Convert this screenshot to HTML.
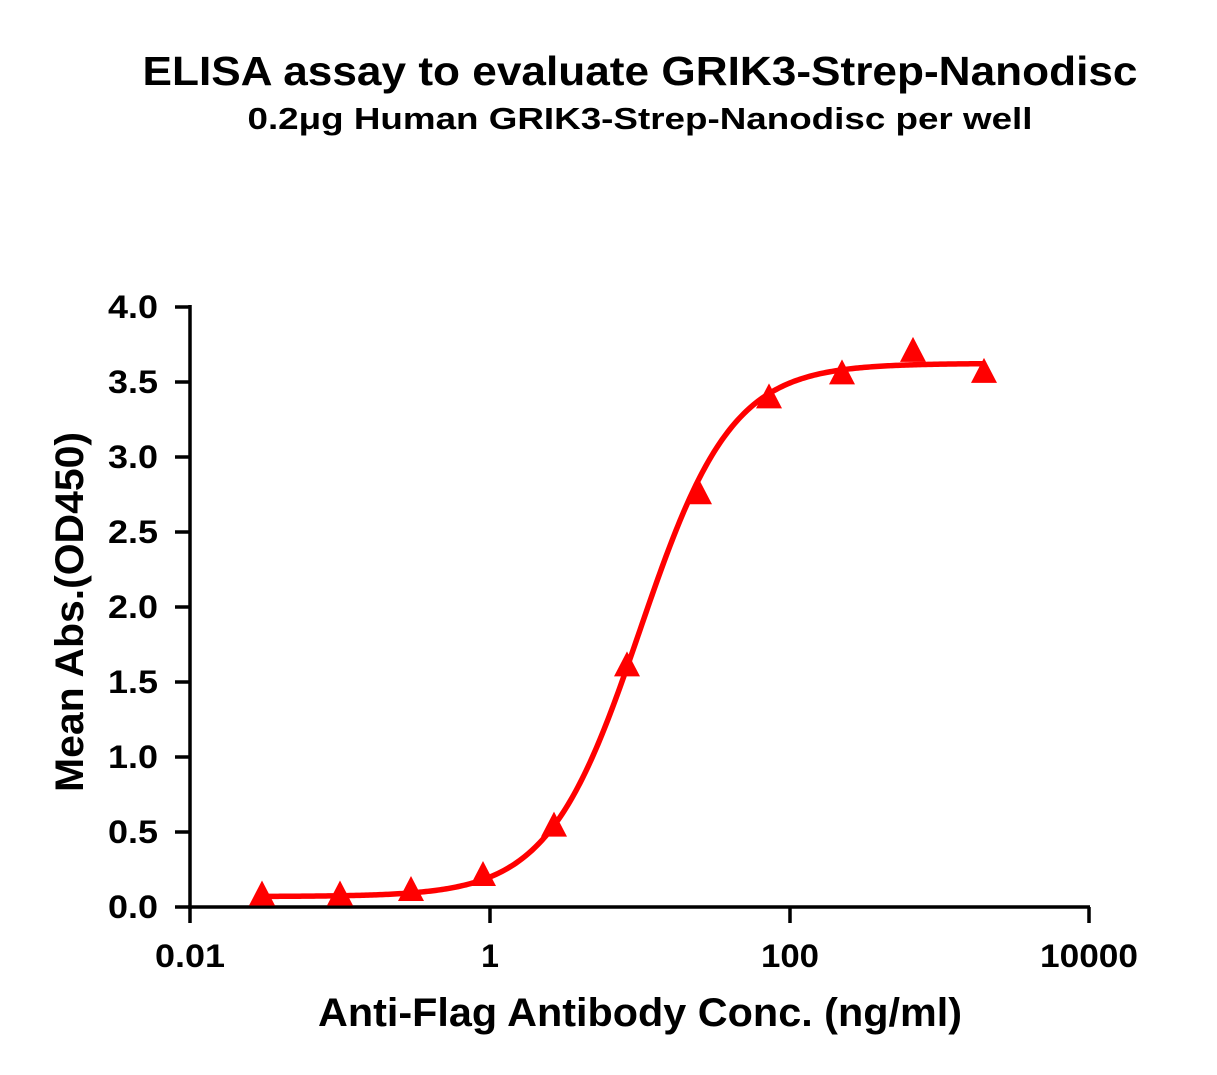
<!DOCTYPE html>
<html><head><meta charset="utf-8"><style>html,body{margin:0;padding:0;background:#fff}svg{display:block}</style></head>
<body>
<svg id="s" width="1217" height="1075" viewBox="0 0 1217 1075" xmlns="http://www.w3.org/2000/svg" font-family="Liberation Sans, Arial, sans-serif" font-weight="bold">
<text x="640" y="85" font-size="41" text-anchor="middle" textLength="995" lengthAdjust="spacingAndGlyphs">ELISA assay to evaluate GRIK3-Strep-Nanodisc</text>
<text x="640" y="129" font-size="31" text-anchor="middle" textLength="785" lengthAdjust="spacingAndGlyphs">0.2μg Human GRIK3-Strep-Nanodisc per well</text>
<g stroke="#000" stroke-width="3.5" fill="none">
<line x1="190" y1="305" x2="190" y2="909"/>
<line x1="188" y1="907" x2="1090" y2="907"/>
<line x1="175" y1="307" x2="190" y2="307"/>
<line x1="175" y1="382" x2="190" y2="382"/>
<line x1="175" y1="457" x2="190" y2="457"/>
<line x1="175" y1="532" x2="190" y2="532"/>
<line x1="175" y1="607" x2="190" y2="607"/>
<line x1="175" y1="682" x2="190" y2="682"/>
<line x1="175" y1="757" x2="190" y2="757"/>
<line x1="175" y1="832" x2="190" y2="832"/>
<line x1="175" y1="907" x2="190" y2="907"/>
<line x1="190" y1="907" x2="190" y2="923"/>
<line x1="490" y1="907" x2="490" y2="923"/>
<line x1="790" y1="907" x2="790" y2="923"/>
<line x1="1089" y1="907" x2="1089" y2="923"/>
</g>
<g font-size="32" text-anchor="end">
<text x="158" y="318" textLength="50" lengthAdjust="spacingAndGlyphs">4.0</text><text x="158" y="393" textLength="50" lengthAdjust="spacingAndGlyphs">3.5</text><text x="158" y="468" textLength="50" lengthAdjust="spacingAndGlyphs">3.0</text>
<text x="158" y="543" textLength="50" lengthAdjust="spacingAndGlyphs">2.5</text><text x="158" y="618" textLength="50" lengthAdjust="spacingAndGlyphs">2.0</text><text x="158" y="693" textLength="50" lengthAdjust="spacingAndGlyphs">1.5</text>
<text x="158" y="768" textLength="50" lengthAdjust="spacingAndGlyphs">1.0</text><text x="158" y="843" textLength="50" lengthAdjust="spacingAndGlyphs">0.5</text><text x="158" y="918" textLength="50" lengthAdjust="spacingAndGlyphs">0.0</text>
</g>
<g font-size="32" text-anchor="middle">
<text x="190" y="967" textLength="70" lengthAdjust="spacingAndGlyphs">0.01</text><text x="490" y="967">1</text><text x="790" y="967" textLength="58" lengthAdjust="spacingAndGlyphs">100</text><text x="1089" y="967" textLength="98" lengthAdjust="spacingAndGlyphs">10000</text>
</g>
<text x="640" y="1026" font-size="40" text-anchor="middle" textLength="644" lengthAdjust="spacingAndGlyphs">Anti-Flag Antibody Conc. (ng/ml)</text>
<text transform="translate(83,612) rotate(-90)" font-size="40" text-anchor="middle" textLength="360" lengthAdjust="spacingAndGlyphs">Mean Abs.(OD450)</text>
<path id="curve" fill="none" stroke="#ff0000" stroke-width="5.5" d=""/>
<g id="pts" fill="#ff0000"></g>
</svg>
<script>
(function(){
var B=0.07,T=3.63,E=1.0,H=1.42;
function py(v){return 907-v*149.75;}
function f(l){return B+(T-B)/(1+Math.pow(10,(E-l)*H));}
var d="";
for(var x=262;x<=984;x+=2){var l=(x-190)/150-2;d+=(d?"L":"M")+x+","+py(f(l)).toFixed(2);}
document.getElementById("curve").setAttribute("d",d);
var P=[[262,0.07],[340,0.07],[411,0.1],[483,0.2],[554,0.53],[627,1.6],[699,2.75],[769,3.39],[842,3.55],[913,3.7],[984,3.56]];
var g=document.getElementById("pts"),s="";
P.forEach(function(p){var x=p[0],y=py(p[1]);s+='<polygon points="'+x+','+(y-16)+' '+(x-13)+','+(y+9)+' '+(x+13)+','+(y+9)+'"/>';});
g.innerHTML=s;
})();
</script>
</body></html>
